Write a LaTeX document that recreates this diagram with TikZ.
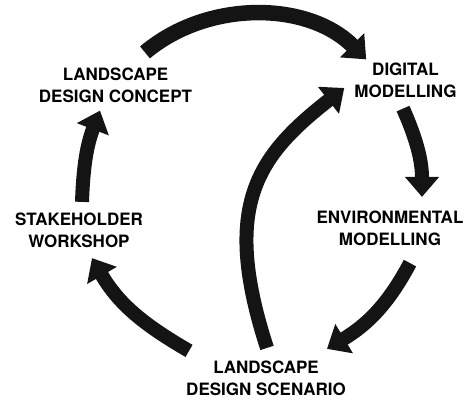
\documentclass[tikz,border=0pt]{standalone}
\usepackage{fontspec}
\setmainfont{TeX Gyre Heros}
\usepackage{tikz}
\usetikzlibrary{arrows.meta,positioning,calc}

\tikzset{
	stage/.style={inner sep=0pt, align=center, font=\fontsize{17}{22}\selectfont\bfseries},
	cyc/.style={line width=14pt, draw=black!92, -{Triangle[width=33pt,length=20pt]}}
}

\begin{document}
\begin{tikzpicture}[x=1pt, y=1pt]
	\useasboundingbox (0,0) rectangle (468,-399);
	% stages of the cycle
	\node[stage] (concept) at (115.5,-85) {LANDSCAPE\\DESIGN CONCEPT};
	\node[stage] (digital) at (405.5,-80) {DIGITAL\\MODELLING};
	\node[stage] (environ) at (390,-228.5) {ENVIRONMENTAL\\MODELLING};
	\node[stage] (scenario) at (266,-378.5) {LANDSCAPE\\DESIGN SCENARIO};
	\node[stage] (workshop) at (79,-230.5) {STAKEHOLDER\\WORKSHOP};
	% outer loop
	\draw[cyc, line width=15.5pt] ([xshift=29.5pt,yshift=15pt]concept.north)
		to[out=40,in=135,looseness=0.95] ([xshift=12pt,yshift=3pt]digital.north west);
	\draw[cyc] ([xshift=-2.5pt,yshift=-11pt]digital.south)
		to[out=-66,in=90] ([xshift=32pt,yshift=14pt]environ.north);
	\draw[cyc] ([xshift=20pt,yshift=-17pt]environ.south)
		to[out=-118,in=31] ([xshift=-19pt,yshift=12pt]scenario.north east);
	\draw[cyc] ([xshift=3pt,yshift=10pt]scenario.north west)
		to[out=150,in=-60] ([xshift=13pt,yshift=-10pt]workshop.south);
	\draw[cyc] ([xshift=3pt,yshift=11pt]workshop.north)
		to[out=88,in=-111] ([xshift=-15.5pt,yshift=-8pt]concept.south);
	% inner shortcut
	\draw[cyc] ([xshift=1pt,yshift=13pt]scenario.north)
		to[out=108,in=218,out distance=150pt,in distance=110pt] ([xshift=-10pt,yshift=-8pt]digital.west);
\end{tikzpicture}
\end{document}
